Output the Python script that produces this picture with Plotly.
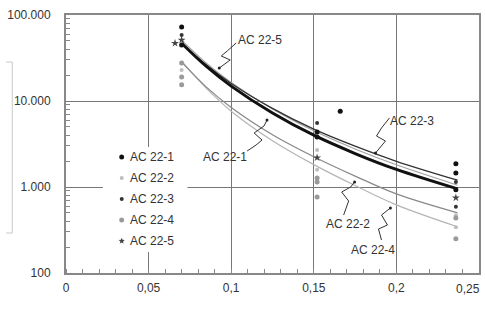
import math
import plotly.graph_objects as go

# ---- data ----
fit_x = [0.07, 0.085, 0.1, 0.125, 0.15, 0.175, 0.2, 0.237]
fit_22_1 = [47000, 25200, 14900, 7250, 4000, 2450, 1600, 950]
fit_22_2 = [28300, 14500, 8400, 4050, 2250, 1340, 830, 500]
fit_22_3 = [47000, 26200, 16000, 8200, 4700, 2980, 1990, 1200]
fit_22_4 = [29000, 14000, 7600, 3450, 1820, 1040, 620, 345]
fit_22_5 = [51000, 27500, 16400, 8070, 4500, 2770, 1810, 1050]

pts_22_1_x = [0.07, 0.07, 0.152, 0.152, 0.166, 0.236, 0.236, 0.236]
pts_22_1_y = [72600, 44800, 4370, 3820, 7600, 1860, 1450, 930]
pts_22_2_x = [0.07, 0.152, 0.152, 0.236, 0.236]
pts_22_2_y = [22900, 2700, 1590, 470, 340]
pts_22_3_x = [0.07, 0.152, 0.236, 0.236]
pts_22_3_y = [58500, 5540, 1140, 590]
pts_22_4_x = [0.07, 0.07, 0.07, 0.152, 0.152, 0.152, 0.236, 0.236]
pts_22_4_y = [27700, 19000, 15400, 1270, 1140, 765, 435, 250]
pts_22_5_x = [0.066, 0.07, 0.152, 0.236]
pts_22_5_y = [47000, 51200, 2190, 750]

series_names = ["AC 22-1", "AC 22-2", "AC 22-3", "AC 22-4", "AC 22-5"]
x_tickvals = [0, 0.05, 0.1, 0.15, 0.2]
x_ticktext = ["0", "0,05", "0,1", "0,15", "0,2"]
x_last_tick = "0,25"
y_tickvals = [100, 1000, 10000, 100000]
y_ticktext = ["100", "1.000", "10.000", "100.000"]

# ---- geometry ----
W, H = 485, 322
L, R, T, B = 66, 4, 15, 49
PW, PH = W - L - R, H - T - B


def px(x):
    return (x - L) / PW


def py(y):
    return (H - B - y) / PH


FONT = "Liberation Sans, Arial, sans-serif"
TXT = "#333333"
fig = go.Figure()

fits = [fit_22_1, fit_22_2, fit_22_3, fit_22_4, fit_22_5]
line_styles = [
    dict(color="#111111", width=3),
    dict(color="#8a8a8a", width=1.3),
    dict(color="#333333", width=1.3),
    dict(color="#b5b5b5", width=1.2),
    dict(color="#a0a0a0", width=1.1),
]
draw_order = [3, 1, 4, 2, 0]
for i in draw_order:
    fig.add_trace(go.Scatter(x=fit_x, y=fits[i], mode="lines", line=dict(shape="spline", **line_styles[i]),
                             showlegend=False, hoverinfo="skip"))

pts = [(pts_22_1_x, pts_22_1_y), (pts_22_2_x, pts_22_2_y), (pts_22_3_x, pts_22_3_y),
       (pts_22_4_x, pts_22_4_y), (pts_22_5_x, pts_22_5_y)]
colors = ["#111111", "#bdbdbd", "#333333", "#9a9a9a", "#444444"]
sizes = [5, 4, 4, 5, 6]
symbols = ["circle", "circle", "circle", "circle", "star"]
for i, (xs, ys) in enumerate(pts):
    fig.add_trace(go.Scatter(x=xs, y=ys, mode="markers", name=series_names[i], showlegend=False,
                             marker=dict(symbol=symbols[i], size=sizes[i], color=colors[i])))

shapes = []
annotations = []

# leaders (zigzag) and labels
leaders = {
    "AC 22-5": ((237, 40), [(237, 43), (228, 51), (222, 56), (231, 60), (220, 68)]),
    "AC 22-3": ((390, 121), [(391, 118), (383, 128), (378, 136), (387, 141), (377, 153)]),
    "AC 22-1": ((202, 157), [(248, 151), (257, 145), (263, 140), (255, 133), (265, 126), (268, 120)]),
    "AC 22-2": ((325, 224), [(345, 215), (350, 201), (343, 192), (352, 187), (356, 182)]),
    "AC 22-4": ((350, 250), [(383, 240), (380, 229), (389, 225), (383, 215), (392, 208)]),
}
for name, ((tx, ty), path) in leaders.items():
    d = "M " + " L ".join(f"{px(a):.4f},{py(b):.4f}" for a, b in path)
    shapes.append(dict(type="path", path=d, xref="paper", yref="paper",
                       line=dict(color="#333333", width=1)))
    ex, ey = path[-1]
    shapes.append(dict(type="circle", xref="paper", yref="paper",
                       x0=px(ex - 1.5), x1=px(ex + 1.5), y0=py(ey + 1.5), y1=py(ey - 1.5),
                       fillcolor="#222222", line=dict(width=0)))
    annotations.append(dict(text=name, x=px(tx), y=py(ty), xref="paper", yref="paper",
                            xanchor="left", yanchor="middle", showarrow=False,
                            font=dict(family=FONT, size=12, color=TXT)))

# legend box (drawn by hand to match spacing)
shapes.append(dict(type="rect", xref="paper", yref="paper", x0=px(103), x1=px(188), y0=py(252), y1=py(147),
                   fillcolor="white", line=dict(width=0), layer="above"))
for k, name in enumerate(series_names):
    yy = 157 + 21 * k
    mx = 122
    r = sizes[k] / 2
    if symbols[k] == "star":
        ptsv = []
        for j in range(10):
            ang = -math.pi / 2 + j * math.pi / 5
            rr = 3.2 if j % 2 == 0 else 1.4
            ptsv.append((mx + rr * math.cos(ang), yy + rr * math.sin(ang)))
        d = "M " + " L ".join(f"{px(a):.4f},{py(b):.4f}" for a, b in ptsv) + " Z"
        shapes.append(dict(type="path", path=d, xref="paper", yref="paper", fillcolor=colors[k],
                           line=dict(width=0), layer="above"))
    else:
        shapes.append(dict(type="circle", xref="paper", yref="paper",
                           x0=px(mx - r), x1=px(mx + r), y0=py(yy + r), y1=py(yy - r),
                           fillcolor=colors[k], line=dict(width=0), layer="above"))
    annotations.append(dict(text=name, x=px(128), y=py(yy), xref="paper", yref="paper",
                            xanchor="left", yanchor="middle", showarrow=False,
                            font=dict(family=FONT, size=12, color=TXT)))

# last x tick label, kept inside the page at its right edge
annotations.append(dict(text=x_last_tick, x=px(484), y=py(289), xref="paper", yref="paper",
                        xanchor="right", yanchor="middle", showarrow=False,
                        font=dict(family=FONT, size=12, color=TXT)))

# stray bracket on the left
for (x0, y0, x1, y1) in [(12, 62, 12, 233), (6, 62, 12, 62), (6, 233, 12, 233)]:
    shapes.append(dict(type="line", xref="paper", yref="paper", x0=px(x0), y0=py(y0), x1=px(x1), y1=py(y1),
                       line=dict(color="#c8c8c8", width=1)))

minor_y = [m * 10 ** e for e in (2, 3, 4) for m in range(2, 10)]

fig.update_layout(
    width=W, height=H,
    margin=dict(l=L, r=R, t=T, b=B, pad=0),
    paper_bgcolor="white", plot_bgcolor="white",
    font=dict(family=FONT, size=12, color=TXT),
    shapes=shapes, annotations=annotations,
    showlegend=False,
    xaxis=dict(range=[0, 0.25], tickvals=x_tickvals, ticktext=x_ticktext, showgrid=True,
               gridcolor="#777777", gridwidth=1, zeroline=False, showline=True, linecolor="#888888",
               linewidth=2, mirror=True, ticks="", ticklabelstandoff=3,
               minor=dict(dtick=0.01, ticks="inside", ticklen=4, tickcolor="#888888", showgrid=False)),
    yaxis=dict(type="log", range=[2, 5], tickvals=y_tickvals, ticktext=y_ticktext, showgrid=True,
               gridcolor="#777777", gridwidth=1, zeroline=False, showline=True, linecolor="#888888",
               linewidth=2, mirror=True, ticks="", ticklabelstandoff=11,
               minor=dict(tickvals=minor_y, ticks="inside", ticklen=4, tickcolor="#888888", showgrid=False)),
)

fig.write_html("out.html")
